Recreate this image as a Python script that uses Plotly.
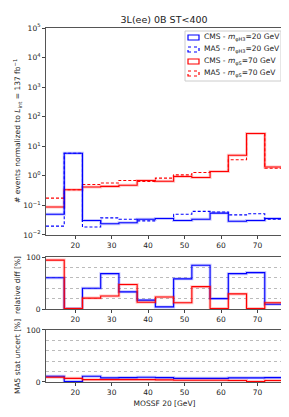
import plotly.graph_objects as go

# ---- data ----
bin_edges = [12, 17, 22, 27, 32, 37, 42, 47, 52, 57, 62, 67, 72, 77]
cms_20 = [0.05, 5.8, 0.031, 0.024, 0.026, 0.034, 0.036, 0.031, 0.034, 0.055, 0.029, 0.031, 0.036]
ma5_20 = [0.02, 5.8, 0.0186, 0.038, 0.034, 0.030, 0.036, 0.050, 0.063, 0.060, 0.048, 0.052, 0.034]
cms_70 = [0.088, 0.34, 0.42, 0.44, 0.48, 0.70, 0.66, 0.95, 0.88, 1.4, 5.0, 27.0, 2.0]
ma5_70 = [0.176, 0.34, 0.51, 0.57, 0.70, 0.65, 0.84, 1.08, 1.3, 1.4, 3.5, 27.0, 1.8]
reldiff_20 = [60, 1, 40, 68, 33, 17, 4, 58, 84, 20, 68, 70, 9]
reldiff_70 = [94, 1, 21, 25, 47, 13, 23, 12, 43, 1, 29, 1, 12]
stat_20 = [11, 1, 11, 8, 8.5, 9, 8.5, 7, 7, 7, 8, 8, 8.5]
stat_70 = [9, 7, 4.5, 4.5, 4.5, 4.5, 4, 3.5, 3.5, 3.5, 3, 1, 3]
x_ticks = [20, 30, 40, 50, 60, 70]
log_ticks = [1e-2, 1e-1, 1e0, 1e1, 1e2, 1e3, 1e4, 1e5]
log_tick_text = ["10<sup>−2</sup>", "10<sup>−1</sup>", "10<sup>0</sup>", "10<sup>1</sup>",
                 "10<sup>2</sup>", "10<sup>3</sup>", "10<sup>4</sup>", "10<sup>5</sup>"]
SUB = "<sub><span style='font-size:5px'>%s</span></sub>"
legend_labels = ["CMS - <i>m</i>" + SUB % "φH3" + "=20 GeV",
                 "MA5 - <i>m</i>" + SUB % "φH3" + "=20 GeV",
                 "CMS - <i>m</i>" + SUB % "φS" + "=70 GeV",
                 "MA5 - <i>m</i>" + SUB % "φS" + "=70 GeV"]

BLUE = "#0000ff"
RED = "#ff0000"
LBLUE = "rgba(0,0,255,0.22)"
LRED = "rgba(255,0,0,0.22)"
DASH = "3px,2px"
FAM = "DejaVu Sans"

fig = go.Figure()


def step(vals, color, dash, xa, ya, shadow=None):
    ys = list(vals) + [vals[-1]]
    if shadow:
        fig.add_trace(go.Scatter(x=bin_edges, y=ys, mode="lines", line_shape="hv",
                                 line=dict(color=shadow, width=3), showlegend=False,
                                 hoverinfo="skip", xaxis=xa, yaxis=ya))
    fig.add_trace(go.Scatter(x=bin_edges, y=ys, mode="lines", line_shape="hv",
                             line=dict(color=color, width=1.1, dash=dash), showlegend=False,
                             xaxis=xa, yaxis=ya))


# top panel
step(cms_70, RED, "solid", "x", "y", LRED)
step(ma5_70, RED, DASH, "x", "y")
step(cms_20, BLUE, "solid", "x", "y", LBLUE)
step(ma5_20, BLUE, DASH, "x", "y")
# middle
step(reldiff_20, BLUE, "solid", "x2", "y2", LBLUE)
step(reldiff_70, RED, "solid", "x2", "y2", LRED)
# bottom
step(stat_20, BLUE, "solid", "x3", "y3", LBLUE)
step(stat_70, RED, "solid", "x3", "y3", LRED)

# ---- custom legend (plot-area paper coords) ----
L, R_, TOP, BOT, H = 38, 275, 20, 374, 354


def px(x):
    return (x - L) / (R_ - L)


def py(y):
    return (BOT - y) / H


shapes = [dict(type="rect", xref="paper", yref="paper", x0=px(177), x1=px(273),
               y0=py(73), y1=py(23), line=dict(color="#cccccc", width=1), fillcolor="white",
               layer="above")]
annotations = []
leg_colors = [BLUE, BLUE, RED, RED]
leg_dash = ["solid", "dot", "solid", "dot"]
for i, (lab, c, d) in enumerate(zip(legend_labels, leg_colors, leg_dash)):
    yc = 29.5 + i * 12
    shapes.append(dict(type="rect", xref="paper", yref="paper", x0=px(180), x1=px(191),
                       y0=py(yc + 2.5), y1=py(yc - 2.5), line=dict(color=c, width=1.2, dash=d),
                       fillcolor="rgba(0,0,0,0)", layer="above"))
    annotations.append(dict(text=lab, xref="paper", yref="paper", x=px(194), y=py(yc),
                            xanchor="left", yanchor="middle", showarrow=False,
                            font=dict(family=FAM, size=7.5, color="#222")))

# y-axis titles as annotations
ytitles = [("# events normalized to <i>L</i><sub>int</sub> = 137 fb<sup>−1</sup>", 123),
           ("relative diff [%]", 277), ("MA5 stat uncert [%]", 349)]
for t, yc in ytitles:
    annotations.append(dict(text=t, xref="paper", yref="paper", x=px(9), y=py(yc),
                            xanchor="center", yanchor="middle", textangle=-90, showarrow=False,
                            font=dict(family=FAM, size=7.5, color="#222")))

font = dict(family=FAM, size=7.5, color="#222")
axcommon = dict(range=[12, 77], tickvals=x_ticks, ticks="outside", ticklen=3,
                showline=True, linecolor="#555", mirror=True, showgrid=False,
                zeroline=False, tickfont=font)
ygrid = dict(tickvals=[20, 40, 60, 80], showgrid=True, griddash="dot",
             gridcolor="#bbbbbb", ticklen=0)

fig.update_layout(
    width=289, height=417,
    margin=dict(l=38, r=14, t=20, b=43),
    paper_bgcolor="white", plot_bgcolor="white",
    font=font,
    showlegend=False,
    shapes=shapes,
    annotations=annotations,
    title=dict(text="3L(ee) 0B ST<400", x=0.54, xanchor="center", y=1 - 12 / 417,
               yanchor="middle", font=dict(family=FAM, size=9.5, color="#222")),
    xaxis=dict(domain=[0, 1], anchor="y", **axcommon),
    xaxis2=dict(domain=[0, 1], anchor="y2", **axcommon),
    xaxis3=dict(domain=[0, 1], anchor="y3",
                title=dict(text="MOSSF 20 [GeV]", font=dict(family=FAM, size=7.5), standoff=4),
                **axcommon),
    yaxis=dict(domain=[0.4153, 1], type="log", range=[-2, 5], tickvals=log_ticks,
               ticktext=log_tick_text, ticks="outside", ticklen=3, showline=True,
               linecolor="#555", mirror=True, showgrid=False, zeroline=False, tickfont=font),
    yaxis2=dict(domain=[0.2062, 0.3531], range=[0, 100], tickvals=[0, 100], ticks="outside",
                ticklen=3, showline=True, linecolor="#555", mirror=True, showgrid=False,
                zeroline=False, tickfont=font, minor=ygrid),
    yaxis3=dict(domain=[0, 0.1469], range=[0, 100], tickvals=[0, 100], ticks="outside",
                ticklen=3, showline=True, linecolor="#555", mirror=True, showgrid=False,
                zeroline=False, tickfont=font, minor=ygrid),
)

fig.write_html("out.html")
